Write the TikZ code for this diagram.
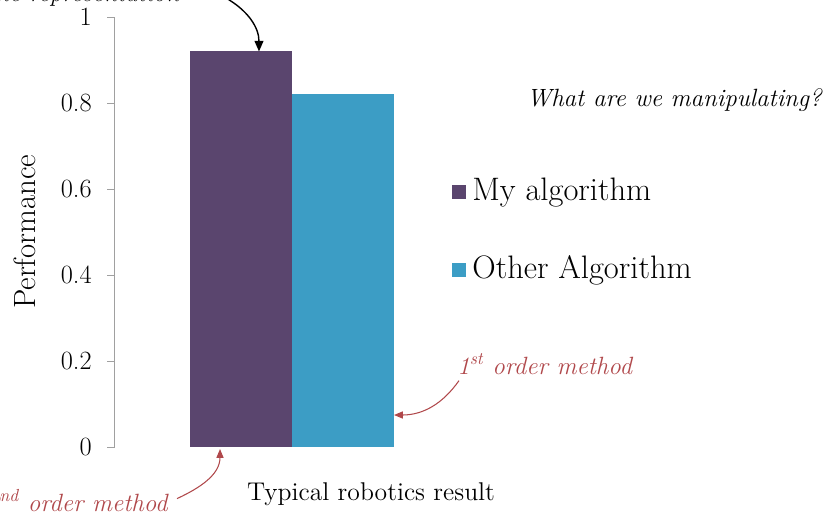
\documentclass[tikz,border=0pt]{standalone}
\usetikzlibrary{arrows.meta,calc}
\definecolor{mypurple}{HTML}{5A456E}
\definecolor{myblue}{HTML}{3C9DC5}
\definecolor{notered}{HTML}{B0484B}
\definecolor{axisgray}{HTML}{A0A0A0}
\begin{document}
\begin{tikzpicture}[x=0.02cm,y=0.02cm,
    bar/.style={rectangle,inner sep=0pt,outer sep=0pt,minimum width=2.04cm,anchor=south west},
    ticklabel/.style={anchor=east,inner sep=0pt,font=\fontsize{15}{18}\selectfont},
    legendtext/.style={anchor=base west,inner sep=0pt,font=\fontsize{18.5}{22}\selectfont},
    note/.style={inner sep=0pt,font=\fontsize{14.2}{17}\selectfont\itshape},
    rednote/.style={note,text=notered},
    redarrow/.style={-{Triangle[width=4pt,length=5pt]},notered,semithick}]
  \useasboundingbox (0,0) rectangle (827,515);
  \draw[axisgray,thin] (107,498) -- (114,498) -- (114,68) -- (107,68);
  \foreach \v/\lab in {0/0,0.2/0.2,0.4/0.4,0.6/0.6,0.8/0.8,1/1} {
    \draw[axisgray,thin] (107,68+430*\v) -- (114,68+430*\v);
    \node[ticklabel] (tick\lab) at (92,68+430*\v) {\lab};
  }
  \node[bar,fill=mypurple,minimum height=7.912cm] (mybar) at (190,68) {};
  \node[bar,fill=myblue,minimum height=7.052cm] (otherbar) at (292,68) {};
  \node[rotate=90,inner sep=0pt,font=\fontsize{17.5}{21}\selectfont] (ylabel) at (25,283) {Performance};
  \node[anchor=base,inner sep=0pt,font=\fontsize{14.6}{17}\selectfont] (xlabel) at (371,15) {Typical robotics result};
  \fill[mypurple] (452,316) rectangle (466,330);
  \node[legendtext] (leg1) at (472,315) {My algorithm};
  \fill[myblue] (452,238) rectangle (466,252);
  \node[legendtext] (leg2) at (472,237) {Other Algorithm};
  \node[note,anchor=base east] (question) at (822,409) {What are we manipulating?};
  \node[note,anchor=base east] (repnote) at (180,513) {the representation};
  \coordinate (reptail) at (226,517);
  \draw[-{Triangle[width=5pt,length=6pt]},thick] (reptail) to[out=-30,in=90] ($(mybar.north)+(18,0)$);
  \node[rednote,anchor=base west] (firstord) at (457,141) {1\textsuperscript{st} order method};
  \draw[redarrow] ($(firstord.south west)+(2,-6)$) to[out=-125,in=0] ($(otherbar.south east)+(0,32)$);
  \node[rednote,anchor=base east] (secondord) at (168,4) {2\textsuperscript{nd} order method};
  \draw[redarrow] ($(secondord.east)+(9,2)$) to[out=25,in=-90] ($(mybar.south west)+(30,-2)$);
\end{tikzpicture}
\end{document}
